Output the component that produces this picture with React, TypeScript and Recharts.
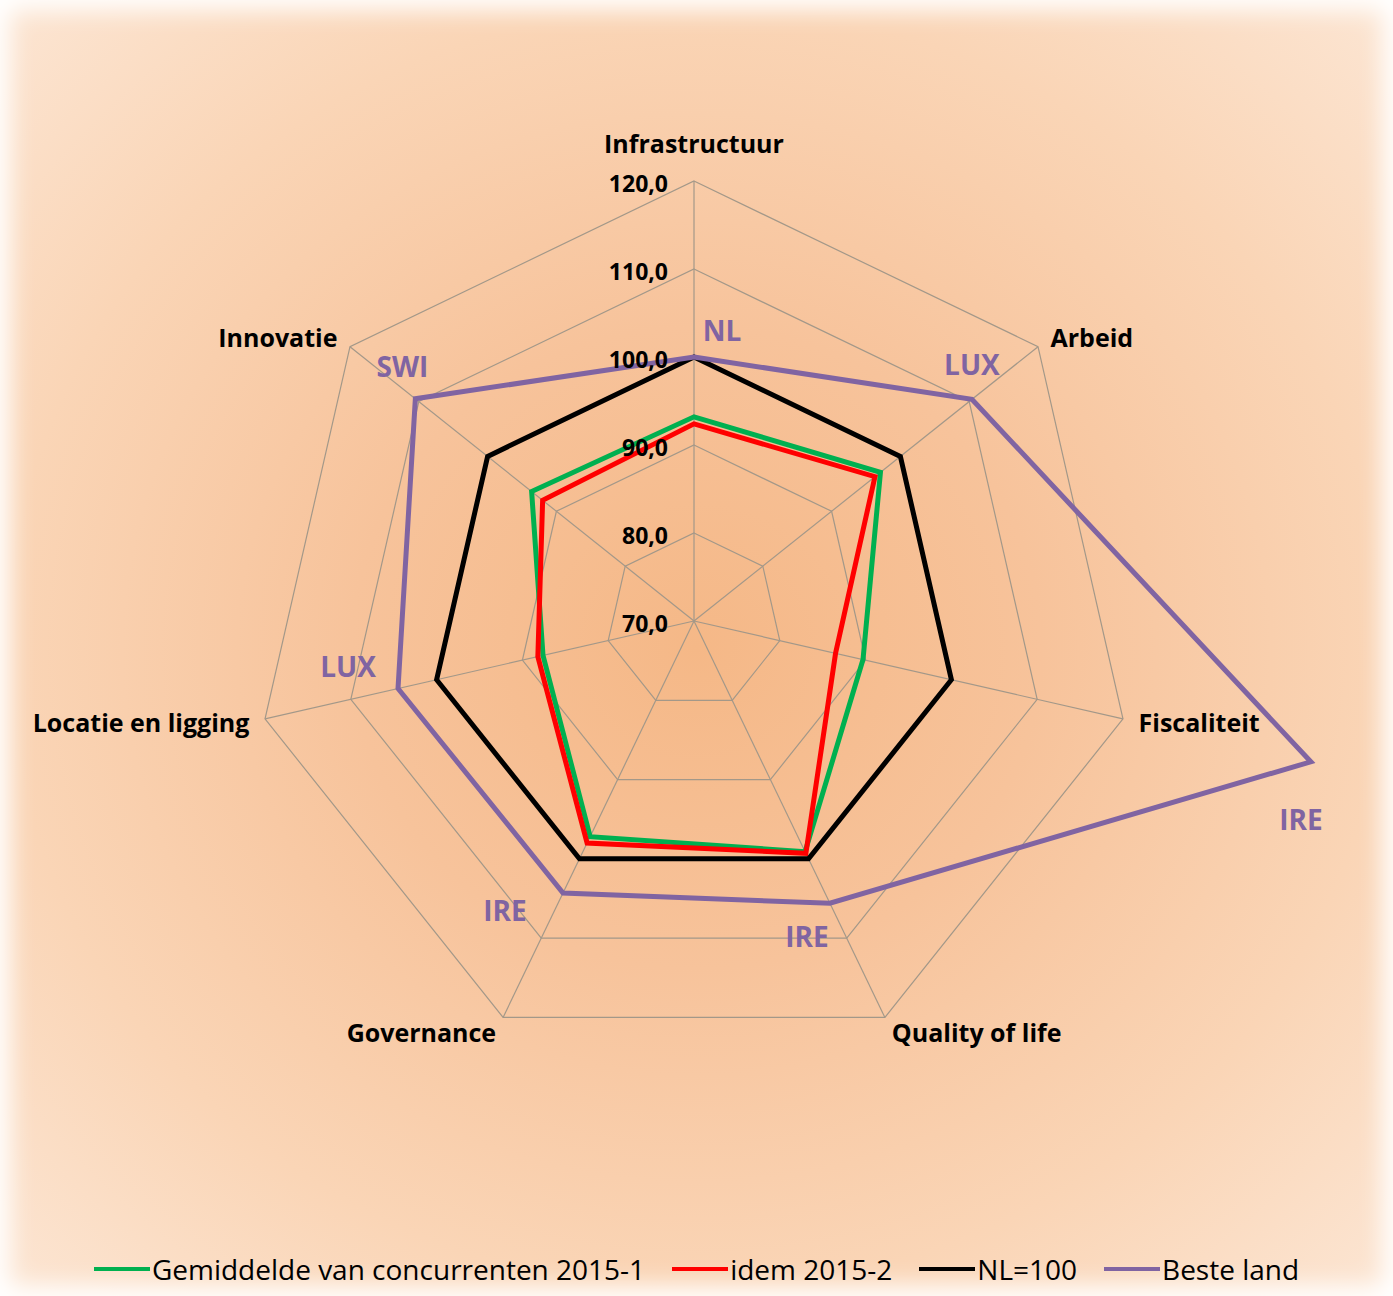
import { RadarChart, Radar, PolarGrid, PolarAngleAxis, PolarRadiusAxis, LabelList, Legend } from "recharts";

const categories = ["Infrastructuur", "Arbeid", "Fiscaliteit", "Quality of life", "Governance", "Locatie en ligging", "Innovatie"];
const gemiddelde2015_1 = [93.2, 97.1, 89.7, 99.1, 97.2, 87.6, 93.6];
const idem2015_2 = [92.4, 96.3, 86.5, 99.3, 98.0, 88.2, 92.0];
const nl100 = [100, 100, 100, 100, 100, 100, 100];
const besteLand = [100, 110.4, 141.9, 105.6, 104.3, 104.5, 110.5];
const besteLandNaam = ["NL", "LUX", "IRE", "IRE", "IRE", "LUX", "SWI"];
const radiusTicks = [70, 80, 90, 100, 110, 120];
const seriesNames = ["Gemiddelde van concurrenten 2015-1", "idem 2015-2", "NL=100", "Beste land"];

// hand placed label offsets, like in the excel original
const countryLabelOffsets = [
  [28, -27],
  [0, -35],
  [-10, 57],
  [-23, 33],
  [-58, 17],
  [-50, -23],
  [-13, -33],
];

const data = categories.map((name, i) => ({
  name,
  g1: gemiddelde2015_1[i],
  g2: idem2015_2[i],
  nl: nl100[i],
  best: besteLand[i],
  country: besteLandNaam[i],
}));

const FONT = "'Open Sans', Lato, sans-serif";
const CX = 694;
const CY = 621;
const R = 440;
const PURPLE = "#8064A2";

const AngleTick = (props: any) => {
  const { payload } = props;
  const rad = (-payload.coordinate * Math.PI) / 180;
  const cos = Math.cos(rad);
  const sin = Math.sin(rad);
  const r = R + 16;
  const x = CX + r * cos;
  let y = CY + r * sin;
  const anchor = cos > 0.01 ? "start" : cos < -0.01 ? "end" : "middle";
  if (anchor === "middle") y -= 22;
  return (
    <text x={x} y={y} textAnchor={anchor} dominantBaseline="central" fontFamily={FONT} fontSize={25} fontWeight={700} fill="#000">
      {payload.value}
    </text>
  );
};

const RadiusTick = (props: any) => {
  const { x, y, payload } = props;
  return (
    <text x={x - 26} y={y + 2} textAnchor="end" dominantBaseline="central" fontFamily={FONT} fontSize={23} fontWeight={700} fill="#000">
      {Number(payload.value).toFixed(1).replace(".", ",")}
    </text>
  );
};

const CountryLabel = (props: any) => {
  const { x, y, index, value } = props;
  const [dx, dy] = countryLabelOffsets[index] || [0, 0];
  return (
    <text x={x + dx} y={y + dy} textAnchor="middle" dominantBaseline="central" fontFamily={FONT} fontSize={28} fontWeight={700} fill={PURPLE}>
      {value}
    </text>
  );
};

const renderLegend = (props: any) => {
  const items = [...(props.payload || [])].sort(
    (a: any, b: any) => seriesNames.indexOf(a.value) - seriesNames.indexOf(b.value)
  );
  return (
    <div style={{ display: "flex", justifyContent: "center", alignItems: "center", gap: 27, fontFamily: FONT, fontSize: 28, color: "#000" }}>
      {items.map((entry: any) => (
        <div key={entry.value} style={{ display: "flex", alignItems: "center" }}>
          <div style={{ width: 56, height: 4, background: entry.color, marginRight: 2 }} />
          <span>{entry.value}</span>
        </div>
      ))}
    </div>
  );
};

export default function App() {
  return (
    <div
      style={{
        position: "absolute",
        left: 0,
        top: 0,
        width: 1393,
        height: 1296,
        background: "radial-gradient(ellipse at 50% 50%, #F5B887 0%, #F7C39B 35%, #FAD5B6 70%, #FCE6D4 100%)",
        boxShadow: "inset 0 0 24px 10px #FFFFFF",
      }}
    >
      <RadarChart width={1393} height={1296} data={data} cx={CX} cy={CY} outerRadius={R} innerRadius={0} startAngle={90} endAngle={-270}>
        <PolarGrid gridType="polygon" stroke="#A39889" strokeWidth={1.2} />
        <PolarAngleAxis dataKey="name" tick={<AngleTick />} tickLine={false} axisLine={false} />
        <PolarRadiusAxis
          angle={90}
          domain={[70, 120]}
          ticks={radiusTicks}
          allowDataOverflow
          axisLine={false}
          tick={<RadiusTick />}
        />
        <Radar name={seriesNames[0]} dataKey="g1" stroke="#00B050" strokeWidth={5} fill="none" fillOpacity={0} dot={false} isAnimationActive={false} />
        <Radar name={seriesNames[1]} dataKey="g2" stroke="#FF0000" strokeWidth={5} fill="none" fillOpacity={0} dot={false} isAnimationActive={false} />
        <Radar name={seriesNames[2]} dataKey="nl" stroke="#000000" strokeWidth={5} fill="none" fillOpacity={0} dot={false} isAnimationActive={false} />
        <Radar name={seriesNames[3]} dataKey="best" stroke={PURPLE} strokeWidth={5} fill="none" fillOpacity={0} dot={false} isAnimationActive={false}>
          <LabelList dataKey="country" content={<CountryLabel />} />
        </Radar>
        <Legend content={renderLegend} verticalAlign="bottom" wrapperStyle={{ top: 1250, left: 0, width: 1393, bottom: "auto" }} />
      </RadarChart>
    </div>
  );
}
